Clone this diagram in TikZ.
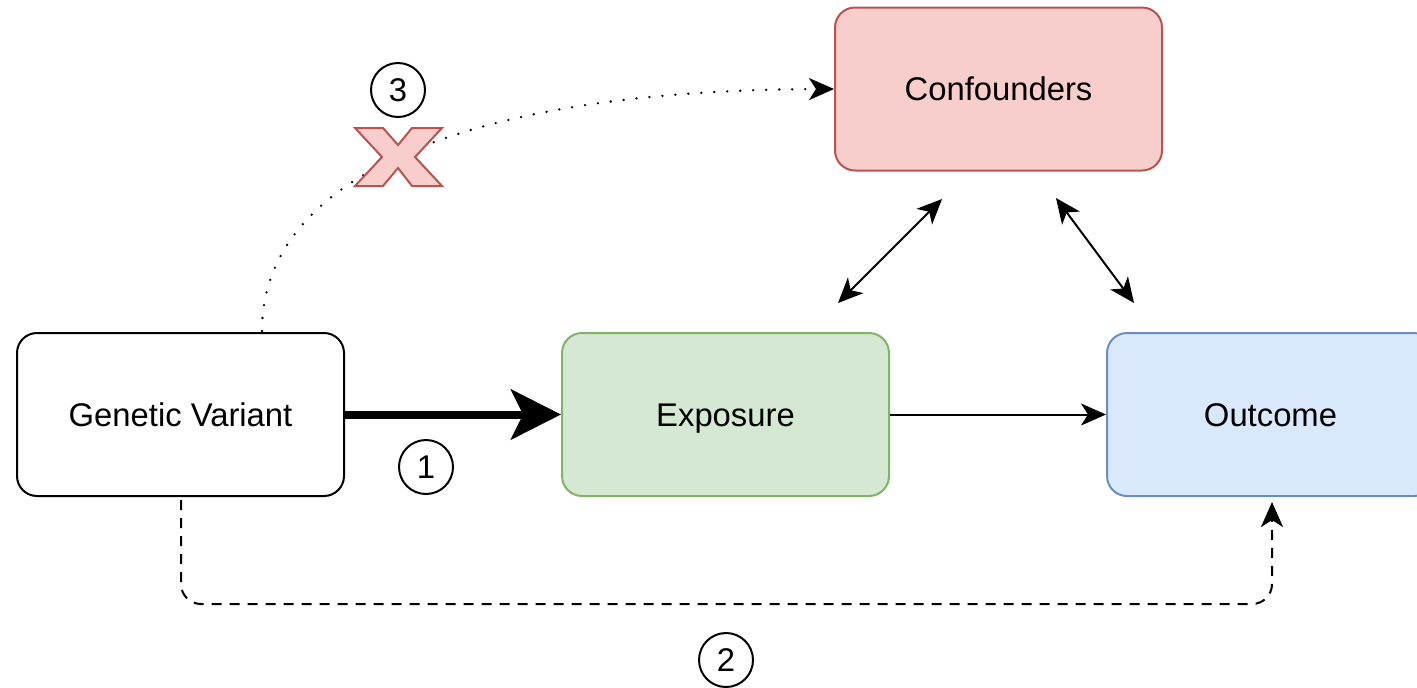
\documentclass[tikz,border=0pt]{standalone}
\usepackage{fontspec}
\setmainfont{Liberation Sans}
\usetikzlibrary{arrows.meta}
\definecolor{redfill}{HTML}{F8CECC}
\definecolor{redline}{HTML}{B85450}
\definecolor{greenfill}{HTML}{D5E8D4}
\definecolor{greenline}{HTML}{82B366}
\definecolor{bluefill}{HTML}{DAE8FC}
\definecolor{blueline}{HTML}{6C8EBF}
\tikzset{
  boxnode/.style={draw, rounded corners=10pt, minimum width=163.5pt, minimum height=81.5pt, line width=1pt, font=\fontsize{16.4}{19}\selectfont, inner sep=0pt, text height=11.8pt, text depth=0pt},
  numcircle/.style={draw, circle, minimum size=27pt, line width=1pt, inner sep=0pt, font=\fontsize{16.4}{19}\selectfont},
  thinarrow/.style={line width=1pt, -{Stealth[length=12.5pt,width=11pt,inset=3.5pt]}},
  dblarrow/.style={line width=1pt, {Stealth[length=12.5pt,width=11pt,inset=3.5pt]}-{Stealth[length=12.5pt,width=11pt,inset=3.5pt]}},
}
\begin{document}
\begin{tikzpicture}[x=0.5pt,y=-0.5pt]
\useasboundingbox (0,0) rectangle (1417,687);
\node[boxnode, fill=white] (gv) at (180.5,414.5) {Genetic Variant};
\node[boxnode, fill=greenfill, draw=greenline] (ex) at (725.5,414.5) {Exposure};
\node[boxnode, fill=bluefill, draw=blueline] (out) at (1270.5,414.5) {Outcome};
\node[boxnode, fill=redfill, draw=redline] (conf) at (998.5,89) {Confounders};

\node[numcircle] (n1) at (426,467) {1};
\node[numcircle] (n2) at (726,660) {2};
\node[numcircle] (n3) at (398,90) {3};

% thick arrow
\draw[line width=4pt, -{Stealth[length=25pt,width=25pt,inset=6pt]}] (gv.east) -- (ex.west);
% exposure -> outcome
\draw[thinarrow] (ex.east) -- (out.west);
% double arrows
\coordinate (a1) at (838,303);
\coordinate (a2) at (942,199);
\coordinate (b1) at (1056,198);
\coordinate (b2) at (1134,303);
\draw[dblarrow] (a1) -- (a2);
\draw[dblarrow] (b1) -- (b2);

% dotted curve
\coordinate (cs) at (262,331);
\draw[line width=1.3pt, line cap=round, dash pattern=on 0pt off 6.5pt, -{Stealth[length=12.5pt,width=11pt,inset=3.5pt]}]
  (cs) .. controls (262,175) and (470,90) .. (conf.west);

% dashed path
\coordinate (d1) at (181,500);
\coordinate (d2) at (1272,502);
\draw[line width=1pt, dash pattern=on 5pt off 4pt, rounded corners=10pt, -{Stealth[length=12.5pt,width=11pt,inset=3.5pt]}]
  (d1) -- (181,604) -- (1272,604) -- (d2);

% cross mark
\filldraw[fill=redfill, draw=redline, line width=1pt, line join=miter]
  (355,128) -- (383,128) -- (398,145) -- (412,128) -- (442,128) -- (415,157) -- (442,186) -- (412,186) -- (398,168) -- (383,186) -- (355,186) -- (382,157) -- cycle;
\end{tikzpicture}
\end{document}
